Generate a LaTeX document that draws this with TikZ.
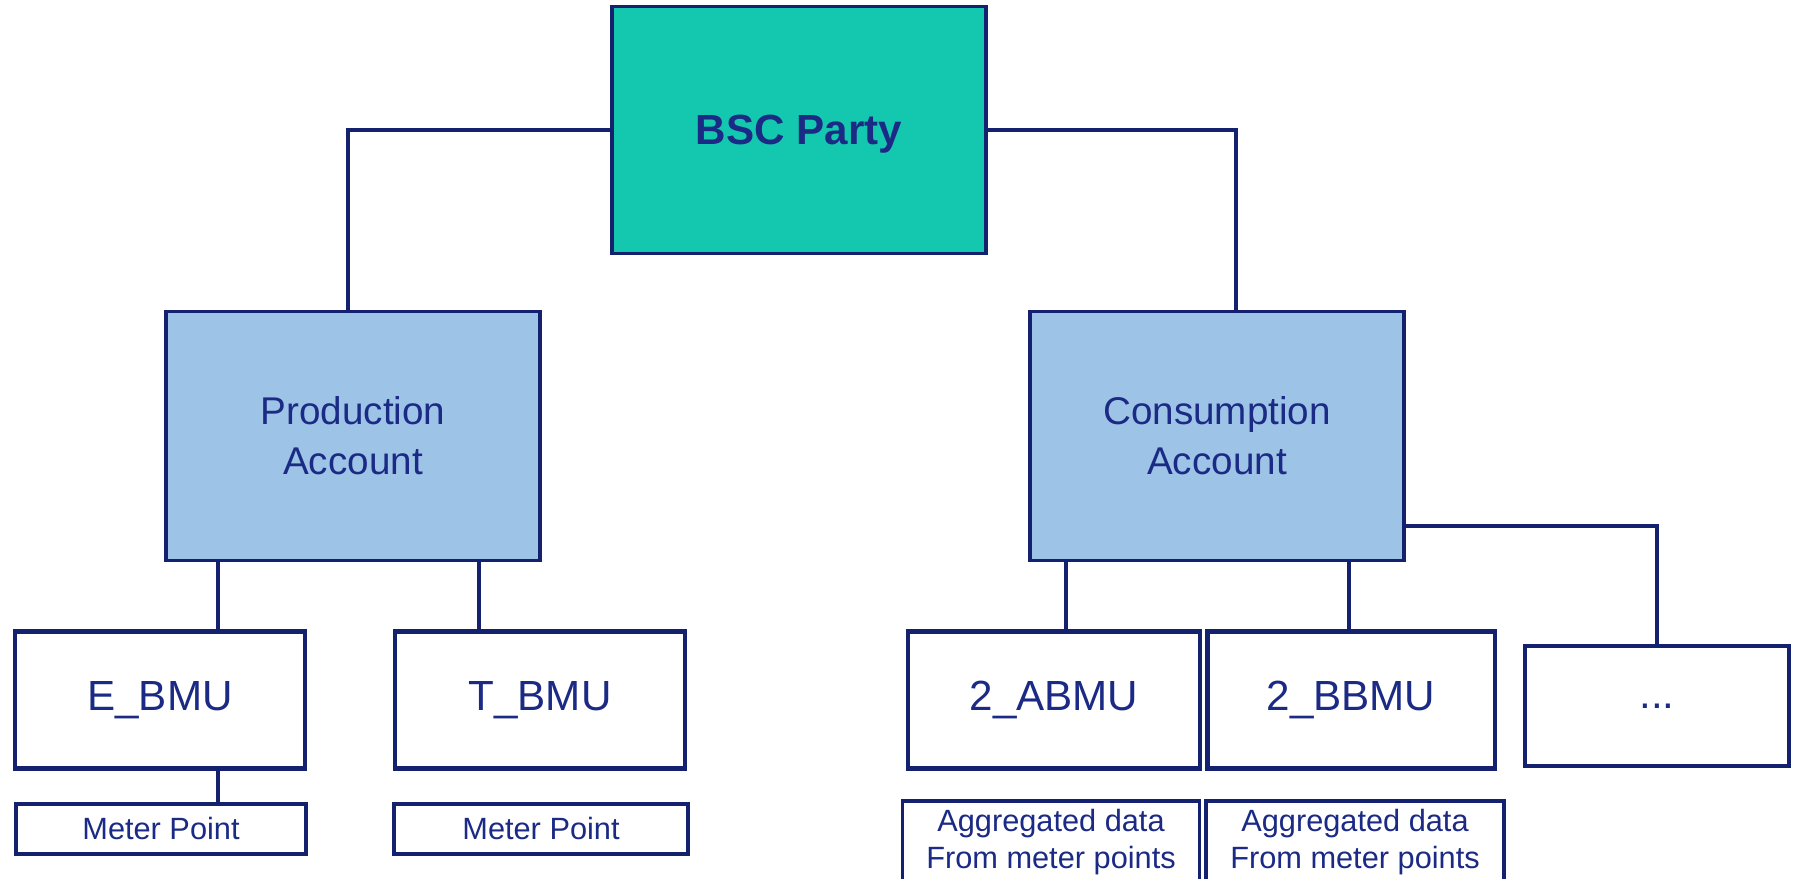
\documentclass[tikz,border=0pt]{standalone}
\usepackage{fontspec}
\setmainfont{Liberation Sans}
\usetikzlibrary{positioning}

\definecolor{lineblue}{HTML}{13216E}
\definecolor{textblue}{HTML}{1B2A85}
\definecolor{partyteal}{HTML}{14C8AF}
\definecolor{acctblue}{HTML}{9DC3E6}

\begin{document}
\begin{tikzpicture}[x=0.02cm,y=-0.02cm,
  party node/.style={draw=lineblue,line width=2.2pt,fill=partyteal,text=textblue,text depth=0pt,
    minimum width=7.48cm,minimum height=4.94cm,font=\fontsize{24}{28}\selectfont\bfseries},
  account node/.style={draw=lineblue,line width=2.2pt,fill=acctblue,text=textblue,align=center,
    minimum width=7.48cm,minimum height=4.98cm,font=\fontsize{22}{28.5}\selectfont},
  bmu node/.style={draw=lineblue,line width=2.8pt,fill=white,text=textblue,
    minimum width=5.8cm,minimum height=2.74cm,font=\fontsize{24}{28}\selectfont},
  meter node/.style={draw=lineblue,line width=2pt,fill=white,text=textblue,align=center,
    minimum width=5.8cm,minimum height=1cm,font=\fontsize{17.5}{21}\selectfont},
  link/.style={draw=lineblue,line width=2pt}]
  \useasboundingbox (0,0) rectangle (1796,879);

  % top of the tree
  \node[party node] (party) at (799,130) {BSC Party};
  \node[account node] (prod) at (353,436) {Production\\Account};
  \node[account node] (cons) at (1217,436) {Consumption\\Account};

  % units under the accounts
  \node[bmu node] (ebmu) at (160,700) {E\_BMU};
  \node[bmu node] (tbmu) at (540,700) {T\_BMU};
  \node[bmu node,minimum width=5.84cm] (abmu) at (1054,700) {2\_ABMU};
  \node[bmu node,minimum width=5.76cm] (bbmu) at (1351,700) {2\_BBMU};
  \node[bmu node,line width=2.2pt,minimum width=5.28cm,minimum height=2.4cm] (more) at (1657,706) {...};

  % meter boxes
  \node[meter node] (emeter) at (161,829) {Meter Point};
  \node[meter node,minimum width=5.88cm] (tmeter) at (541,829) {Meter Point};
  \node[meter node,minimum width=5.94cm,minimum height=1.64cm] (aagg) at (1051,842) {Aggregated data\\From meter points};
  \node[meter node,minimum width=5.96cm,minimum height=1.64cm] (bagg) at (1355,842) {Aggregated data\\From meter points};

  % where the lines drop
  \coordinate (pdrop) at (348,0);
  \coordinate (cdrop) at (1236,0);
  \coordinate (edrop) at (218,0);
  \coordinate (tdrop) at (479,0);
  \coordinate (adrop) at (1066,0);
  \coordinate (bdrop) at (1349,0);
  \coordinate (mside) at (0,526);

  \draw[link] (party.west) -| (prod.north -| pdrop);
  \draw[link] (party.east) -| (cons.north -| cdrop);
  \draw[link] (prod.south -| edrop) -- (ebmu.north -| edrop);
  \draw[link] (prod.south -| tdrop) -- (tbmu.north -| tdrop);
  \draw[link,line width=2.6pt] (ebmu.south -| edrop) -- (emeter.north -| edrop);
  \draw[link] (cons.south -| adrop) -- (abmu.north -| adrop);
  \draw[link] (cons.south -| bdrop) -- (bbmu.north -| bdrop);
  \draw[link] (cons.east |- mside) -| (more.north);
\end{tikzpicture}
\end{document}
